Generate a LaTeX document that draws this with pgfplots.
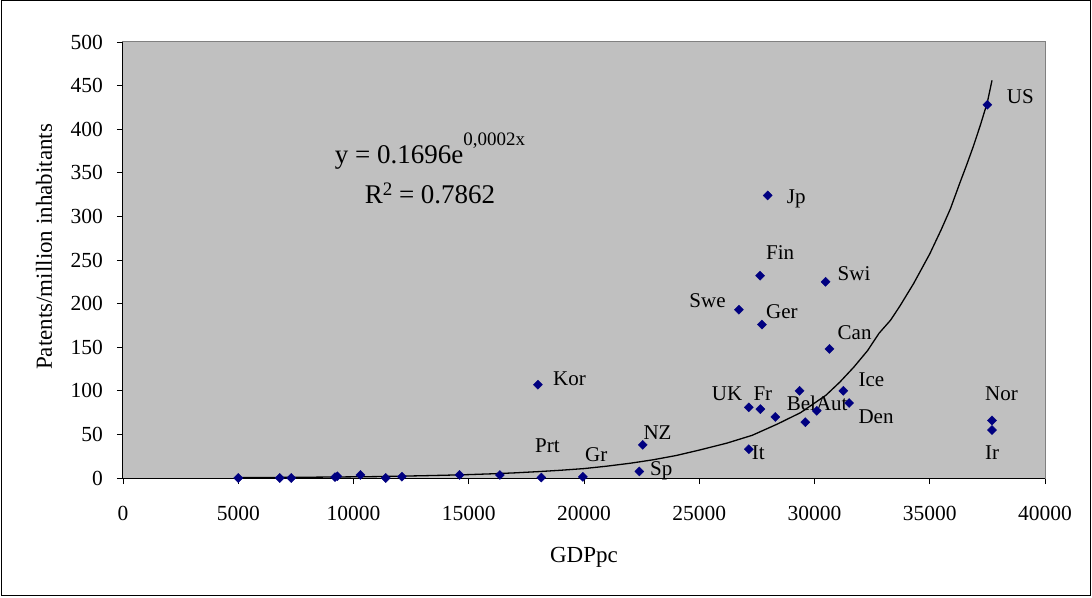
\documentclass[border=0pt]{standalone}
\usepackage{fontspec}
\setmainfont{Liberation Serif}
\usepackage{pgfplots}
\pgfplotsset{compat=1.18}
\definecolor{plotgray}{RGB}{192,192,192}
\definecolor{navyb}{RGB}{0,0,128}
\definecolor{bordergray}{RGB}{128,128,128}
\begin{document}
\fontsize{21}{25}\selectfont
\begin{tikzpicture}[x=1pt,y=1pt]
\useasboundingbox (-123,-119) rectangle (969,478);
\draw[black, line width=1pt] (-121,-117) rectangle (967,477);
\begin{axis}[
  at={(0,0)}, anchor=south west,
  width=922pt, height=436pt, scale only axis,
  xmin=0, xmax=40000, ymin=0, ymax=500,
  xtick={0,5000,...,40000}, ytick={0,50,...,500},
  scaled x ticks=false,
  xticklabel style={yshift=-15pt, /pgf/number format/.cd, fixed, 1000 sep={}},
  /pgf/number format/assume math mode=true,
  every tick label/.append style={font=\fontsize{21.5}{25}\selectfont},
  yticklabel style={xshift=-7pt},
  tick align=outside, xtick pos=bottom, ytick pos=left,
  major tick length=6pt,
  tick style={black, line width=0.8pt},
  axis background/.style={fill=plotgray},
  axis line style={draw=bordergray, line width=1pt},
  clip=false,
  xlabel={GDPpc}, ylabel={Patents/million inhabitants},
  xlabel style={at={(axis description cs:0.5,-0.1812)}, anchor=center},
  ylabel style={at={(axis description cs:-0.0857,0.53)}, anchor=center},
  every axis label/.append style={font=\fontsize{23}{27}\selectfont},
]
\draw[black, line width=1pt] (rel axis cs:0,1) -- (rel axis cs:0,0) -- (rel axis cs:1,0);
\addplot[black, line width=1.3pt, no marks] coordinates {
(5000,0.5) (7000,0.7) (9000,1.1) (11000,1.6) (12000,2.1) (13000,2.6) (14000,3.2)
(15000,3.9) (16000,4.8) (17000,5.9) (18000,7.3) (19000,8.9) (20000,10.8)
(21000,13.6) (22000,16.9) (23000,20.9) (24000,25.8) (25000,32) (26200,40)
(27300,49) (28400,62) (29400,75) (30500,95) (31100,110) (31700,127) (32300,146)
(32800,166) (33300,181) (33700,197) (34300,223) (35000,257) (35500,285)
(35900,309) (36300,338) (36600,359) (36900,381) (37200,405) (37500,431) (37700,456)
};
\addplot[only marks, mark=square*, mark size=3.2pt,
  mark options={rotate=45, fill=navyb, draw=navyb}] coordinates {
(5000,0) (6800,0) (7300,0) (9200,1) (9300,2) (10300,3.5) (11400,0) (12100,1.5)
(14600,3.5) (16350,3.5) (18000,107) (18150,0.5) (19950,1.3) (22400,7.5)
(22550,38) (27150,81) (27650,79) (28300,70) (29350,100) (29600,64) (30100,77)
(30650,148) (31250,100) (31500,86) (27150,33) (37700,66) (37700,55)
(27970,324) (27640,232) (30480,225) (26720,193) (27720,176) (37500,428)
};
\begin{scope}[every node/.style={inner sep=0pt, anchor=base west}]
\node at (axis cs:18655,106.6) {Kor};
\node at (axis cs:17874,28.7) {Prt};
\node at (axis cs:20043,18.7) {Gr};
\node at (axis cs:22863,3.4) {Sp};
\node at (axis cs:22573,44.4) {NZ};
\node at (axis cs:25540,89.4) {UK};
\node at (axis cs:27345,89.4) {Fr};
\node at (axis cs:28793,77.2) {BelAut};
\node at (axis cs:31902,104.7) {Ice};
\node at (axis cs:31902,62.7) {Den};
\node at (axis cs:27272,21.4) {It};
\node at (axis cs:37397,89.4) {Nor};
\node at (axis cs:37397,21.4) {Ir};
\node at (axis cs:28793,315) {Jp};
\node at (axis cs:27896,251) {Fin};
\node at (axis cs:30998,227) {Swi};
\node at (axis cs:24568,195.3) {Swe};
\node at (axis cs:27896,183) {Ger};
\node at (axis cs:30998,159) {Can};
\node at (axis cs:38340,429.7) {US};
\end{scope}
\node[anchor=base, inner sep=0pt, font=\fontsize{27}{30}\selectfont] at (axis cs:13319,361) {y = 0.1696e\raisebox{18pt}{\fontsize{19}{19}\selectfont 0,0002x}};
\node[anchor=base, inner sep=0pt, font=\fontsize{27}{30}\selectfont] at (axis cs:13319,315) {R\raisebox{8pt}{\fontsize{19}{19}\selectfont 2} = 0.7862};
\end{axis}
\end{tikzpicture}
\end{document}
